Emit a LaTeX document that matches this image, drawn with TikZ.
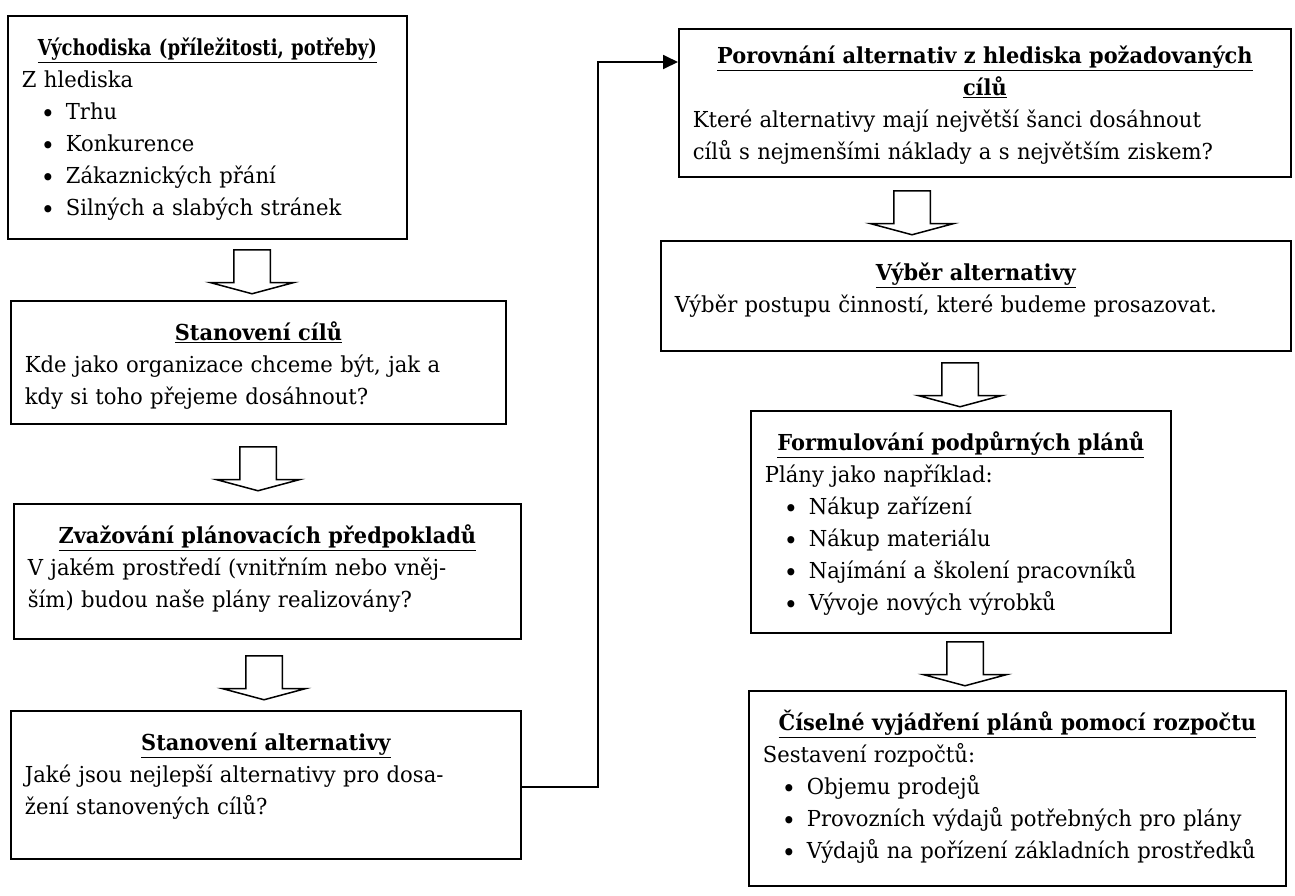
\documentclass[tikz,border=0pt]{standalone}
\usepackage{fontspec}
\setmainfont{DejaVu Serif}[FakeStretch=0.96]
\newfontfamily\nadpisfont{DejaVu Serif}[FakeStretch=0.95]
\newfontfamily\nadpisuzky{DejaVu Serif}[FakeStretch=0.82]
\usetikzlibrary{positioning, arrows.meta, shapes.arrows}

\newcommand{\nadpis}[1]{\makebox[\linewidth]{\underline{\nadpisfont\bfseries #1}}}
\newcommand{\nadpisu}[1]{\makebox[\linewidth]{\underline{\nadpisuzky\bfseries #1}}}
\newcommand{\odrazka}{\hspace*{19pt}\makebox[25pt][l]{\raisebox{-2.5pt}{\fontsize{25}{32}\selectfont\textbullet}}}

\begin{document}
\begin{tikzpicture}[x=1pt, y=1pt,
  krok/.style={
    draw, line width=1.8pt, anchor=north west, align=left,
    inner xsep=14pt, inner ysep=13pt, text height=27pt,
    font=\fontsize{22}{32}\selectfont
  },
  hohl/.style={
    draw, line width=1.5pt, single arrow, rotate=-90, anchor=tail,
    inner xsep=0pt, inner ysep=17.5pt, minimum height=44pt,
    single arrow head extend=23.5pt, single arrow tip angle=150
  },
  spoj/.style={line width=1.8pt, -{Triangle[length=15pt, width=14pt]}}
]
  \useasboundingbox (0,0) rectangle (1295,-895);

  % levy sloupec
  \node[krok, text width=371pt, text depth=170pt] (vychodiska) at (7,-15)
    {\nadpisu{Východiska (příležitosti, potřeby)}\\
     Z hlediska\\
     \odrazka Trhu\\
     \odrazka Konkurence\\
     \odrazka Zákaznických přání\\
     \odrazka Silných a slabých stránek};
  \node[krok, text width=467pt, text depth=70pt] (cile) at (10,-300)
    {\nadpis{Stanovení cílů}\\
     Kde jako organizace chceme být, jak a\\
     kdy si toho přejeme dosáhnout?};
  \node[krok, text width=479pt, text depth=82pt] (predpoklady) at (13,-503)
    {\nadpis{Zvažování plánovacích předpokladů}\\
     V jakém prostředí (vnitřním nebo vněj-\\
     ším) budou naše plány realizovány?};
  \node[krok, text width=482pt, text depth=95pt] (alternativy) at (10,-710)
    {\nadpis{Stanovení alternativy}\\
     Jaké jsou nejlepší alternativy pro dosa-\\
     žení stanovených cílů?};

  % pravy sloupec
  \node[krok, inner ysep=8pt, text width=584pt, text depth=105pt] (porovnani) at (678,-28)
    {\nadpis{Porovnání alternativ z hlediska požadovaných}\\
     \nadpis{cílů}\\
     Které alternativy mají největší šanci dosáhnout\\
     cílů s nejmenšími náklady a s největším ziskem?};
  \node[krok, text width=602pt, text depth=57pt] (vyber) at (660,-240)
    {\nadpis{Výběr alternativy}\\
     Výběr postupu činností, které budeme prosazovat.};
  \node[krok, text width=392pt, text depth=169pt] (podpurne) at (750,-410)
    {\nadpis{Formulování podpůrných plánů}\\
     Plány jako například:\\
     \odrazka Nákup zařízení\\
     \odrazka Nákup materiálu\\
     \odrazka Najímání a školení pracovníků\\
     \odrazka Vývoje nových výrobků};
  \node[krok, text width=509pt, text depth=142pt] (rozpocet) at (748,-690)
    {\nadpis{Číselné vyjádření plánů pomocí rozpočtu}\\
     Sestavení rozpočtů:\\
     \odrazka Objemu prodejů\\
     \odrazka Provozních výdajů potřebných pro plány\\
     \odrazka Výdajů na pořízení základních prostředků};

  % duté šipky
  \node[hohl] (p1) at (252,-249) {};
  \node[hohl] (p2) at (258,-446) {};
  \node[hohl] (p3) at (264,-655) {};
  \node[hohl] (p4) at (912,-190) {};
  \node[hohl] (p5) at (960,-362) {};
  \node[hohl] (p6) at (965,-641) {};

  % spojnice
  \coordinate (knick) at (598,-787);
  \coordinate (vstup) at (598,-62);
  \draw[spoj] (alternativy.east |- knick) -- (knick) -- (vstup) -- (porovnani.west |- vstup);
\end{tikzpicture}
\end{document}
